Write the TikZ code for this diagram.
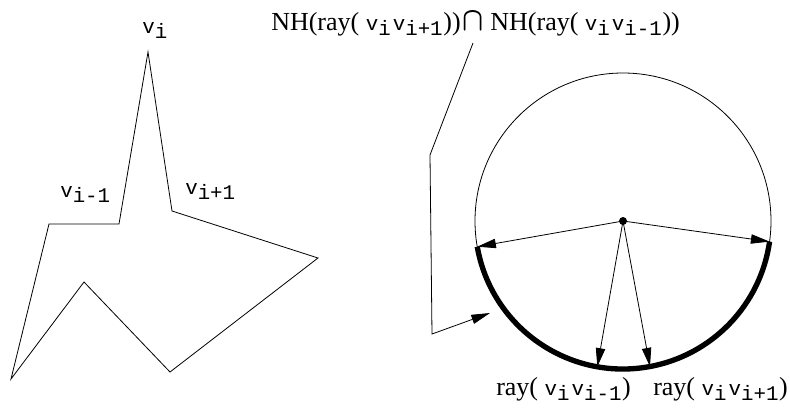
\documentclass[tikz,border=0pt]{standalone}
\usepackage{fontspec}
\usepackage{graphicx}
\setmainfont{Liberation Serif}
\setmonofont[Scale=0.8]{Liberation Mono}
\usetikzlibrary{arrows.meta}

\tikzset{
  lbl/.style={inner sep=0pt, anchor=base west, font=\fontsize{19.5}{22}\selectfont},
  ray/.style={-{Triangle[length=14pt, width=7pt]}, line width=0.6pt},
  thin line/.style={line width=0.6pt}
}
\newcommand{\vx}[1]{$\texttt{v}_{\texttt{#1}}$}
\newcommand{\bigcapsym}{\scalebox{1}[1.2]{\boldmath$\cap$}}

\begin{document}
\begin{tikzpicture}[x=0.75pt, y=-0.75pt]
    \useasboundingbox (0,0) rectangle (790,408);

    % Polygon vertices
    \coordinate (vi) at (148,52);
    \coordinate (vnext) at (172,211);
    \coordinate (pr) at (318,258);
    \coordinate (pb) at (170,372);
    \coordinate (pm) at (84,282);
    \coordinate (pbl) at (11,379);
    \coordinate (pl) at (49,224);
    \coordinate (vprev) at (119,224);
    \draw[thin line, line join=miter] (vi) -- (vnext) -- (pr) -- (pb) -- (pm) -- (pbl) -- (pl) -- (vprev) -- cycle;

    % Vertex labels
    \node[lbl] (lvi) at (142,33) {\vx{i}};
    \node[lbl] (lvprev) at (60,197) {\vx{i-1}};
    \node[lbl] (lvnext) at (185,194) {\vx{i+1}};

    % Circle of directions
    \coordinate (ctr) at (623,221);
    \draw[thin line] (ctr) circle[radius=148];
    \coordinate (aleft) at ([shift={(170:148)}]ctr);
    \coordinate (aright) at ([shift={(8:148)}]ctr);
    \coordinate (rprev) at ([shift={(100:148)}]ctr);
    \coordinate (rnext) at ([shift={(79.5:148)}]ctr);
    \draw[line width=4pt] (aleft) arc[start angle=170, end angle=8, radius=148];
    \fill (ctr) circle[radius=4];

    % Rays from the centre
    \draw[ray] (ctr) -- (aleft);
    \draw[ray] (ctr) -- (aright);
    \draw[ray] (ctr) -- (rprev);
    \draw[ray] (ctr) -- (rnext);

    % Intersection label and leader
    \node[lbl] (nh) at (271,30) {NH(ray( \vx{i}\kern1pt\vx{i+1}))\kern1.5pt\bigcapsym\ NH(ray( \vx{i}\kern1pt\vx{i-1}))};
    \coordinate (lstart) at (473,43);
    \coordinate (lbend) at (430,155);
    \coordinate (lfoot) at (432,334);
    \coordinate (lend) at (490,313);
    \draw[ray] (lstart) -- (lbend) -- (lfoot) -- (lend);

    % Ray labels
    \node[lbl] (lprev) at (496,395) {ray( \vx{i}\kern1pt\vx{i-1})};
    \node[lbl] (lnext) at (653,395) {ray( \vx{i}\kern1pt\vx{i+1})};
\end{tikzpicture}
\end{document}
